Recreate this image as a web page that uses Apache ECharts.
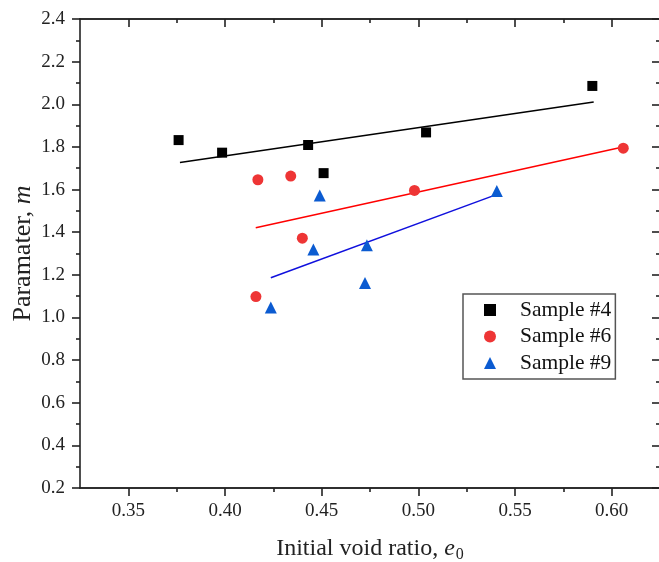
<!DOCTYPE html>
<html><head><meta charset="utf-8">
<script src="https://cdn.jsdelivr.net/npm/echarts@6/dist/echarts.min.js"></script>
<style>html,body{margin:0;padding:0;background:#fff}#c{width:659px;height:562px}</style>
</head><body><div id="c"></div>
<script>
// ---- data ----
const s4 = [[0.376,1.832],[0.3985,1.773],[0.443,1.809],[0.451,1.677],[0.504,1.868],[0.590,2.086]];
const s6 = [[0.417,1.646],[0.434,1.663],[0.440,1.372],[0.416,1.098],[0.498,1.596],[0.606,1.794]];
const s9 = [[0.449,1.572],[0.4457,1.319],[0.4734,1.339],[0.4724,1.162],[0.4237,1.047],[0.5406,1.593]];
const fit4 = [[0.3767,1.727],[0.5907,2.011]];
const fit6 = [[0.4159,1.421],[0.6058,1.800]];
const fit9 = [[0.4237,1.186],[0.5400,1.575]];
const seriesNames = ['Sample #4','Sample #6','Sample #9'];
const xMajor = [0.35,0.40,0.45,0.50,0.55,0.60];
const xMinor = [0.375,0.425,0.475,0.525,0.575];

const FONT = 'Liberation Serif';
const AX = '#222';
const chart = echarts.init(document.getElementById('c'));
function xAx(pos, vals, len, inside, labels, extra){
  return Object.assign({
    type:'value', position:pos, min:0.325, max:0.625,
    axisLine:{show:true, onZero:false, lineStyle:{color:AX,width:1.6}},
    axisTick:{show:true, inside:inside, length:len, customValues:vals, lineStyle:{color:AX,width:1.6}},
    axisLabel:{show:labels, customValues:vals, margin:14, fontFamily:FONT, fontSize:19, color:'#222', formatter:v=>v.toFixed(2)},
    splitLine:{show:false}
  }, extra||{});
}
function yAx(pos, inside, labels, extra){
  return Object.assign({
    type:'value', position:pos, min:0.2, max:2.4, interval:0.2,
    axisLine:{show:true, onZero:false, lineStyle:{color:AX,width:1.6}},
    axisTick:{show:true, inside:inside, length:8, lineStyle:{color:AX,width:1.6}},
    minorTick:{show:true, splitNumber:2, length:4, lineStyle:{color:AX,width:1.6}},
    axisLabel:{show:labels, margin:15, fontFamily:FONT, fontSize:19, color:'#222', formatter:v=>v.toFixed(1)},
    splitLine:{show:false}, minorSplitLine:{show:false}
  }, extra||{});
}
chart.setOption({
  animation:false,
  backgroundColor:'#fff',
  grid:{left:80, top:19, right:-1, bottom:74, containLabel:false, outerBoundsMode:'none'},
  xAxis:[
    xAx('bottom', xMajor, 8, false, true, {
      name:'Initial void ratio, {i|e}{s|0}', nameLocation:'middle', nameGap:47, nameMoveOverlap:false,
      nameTextStyle:{fontFamily:FONT, fontSize:24, color:'#222',
        rich:{i:{fontFamily:FONT,fontSize:24,fontStyle:'italic',color:'#222'},
              s:{fontFamily:FONT,fontSize:16,color:'#222',padding:[12,0,0,1]}}}
    }),
    xAx('bottom', xMinor, 4, false, false),
    xAx('top', xMajor, 8, true, false),
    xAx('top', xMinor, 4, true, false)
  ],
  yAxis:[
    yAx('left', false, true, {
      name:'Paramater, {i|m}', nameLocation:'middle', nameGap:44, nameMoveOverlap:false,
      nameTextStyle:{fontFamily:FONT, fontSize:26, color:'#222',
        rich:{i:{fontFamily:FONT,fontSize:26,fontStyle:'italic',color:'#222'}}}
    }),
    yAx('right', true, false)
  ],
  legend:{
    data:seriesNames, orient:'vertical', left:463, top:294,
    padding:[5,4,5,21], itemGap:4.5, itemWidth:12, itemHeight:12,
    borderColor:'#555', borderWidth:1.5,
    textStyle:{fontFamily:FONT, fontSize:21.5, color:'#111', padding:[0,0,0,19]}
  },
  series:[
    {name:seriesNames[0], type:'scatter', data:s4, symbol:'rect', symbolSize:10, itemStyle:{color:'#000', opacity:1}, z:5},
    {name:seriesNames[1], type:'scatter', data:s6, symbol:'circle', symbolSize:11, itemStyle:{color:'#ee3535', opacity:1}, z:5},
    {name:seriesNames[2], type:'scatter', data:s9, symbol:'triangle', symbolSize:12, itemStyle:{color:'#0b5bd1', opacity:1}, z:5},
    {name:'fit4', type:'line', data:fit4, showSymbol:false, symbol:'none', lineStyle:{color:'#000',width:1.5}, z:3},
    {name:'fit6', type:'line', data:fit6, showSymbol:false, symbol:'none', lineStyle:{color:'#ff0000',width:1.5}, z:3},
    {name:'fit9', type:'line', data:fit9, showSymbol:false, symbol:'none', lineStyle:{color:'#1010dd',width:1.5}, z:3}
  ]
});
</script></body></html>
